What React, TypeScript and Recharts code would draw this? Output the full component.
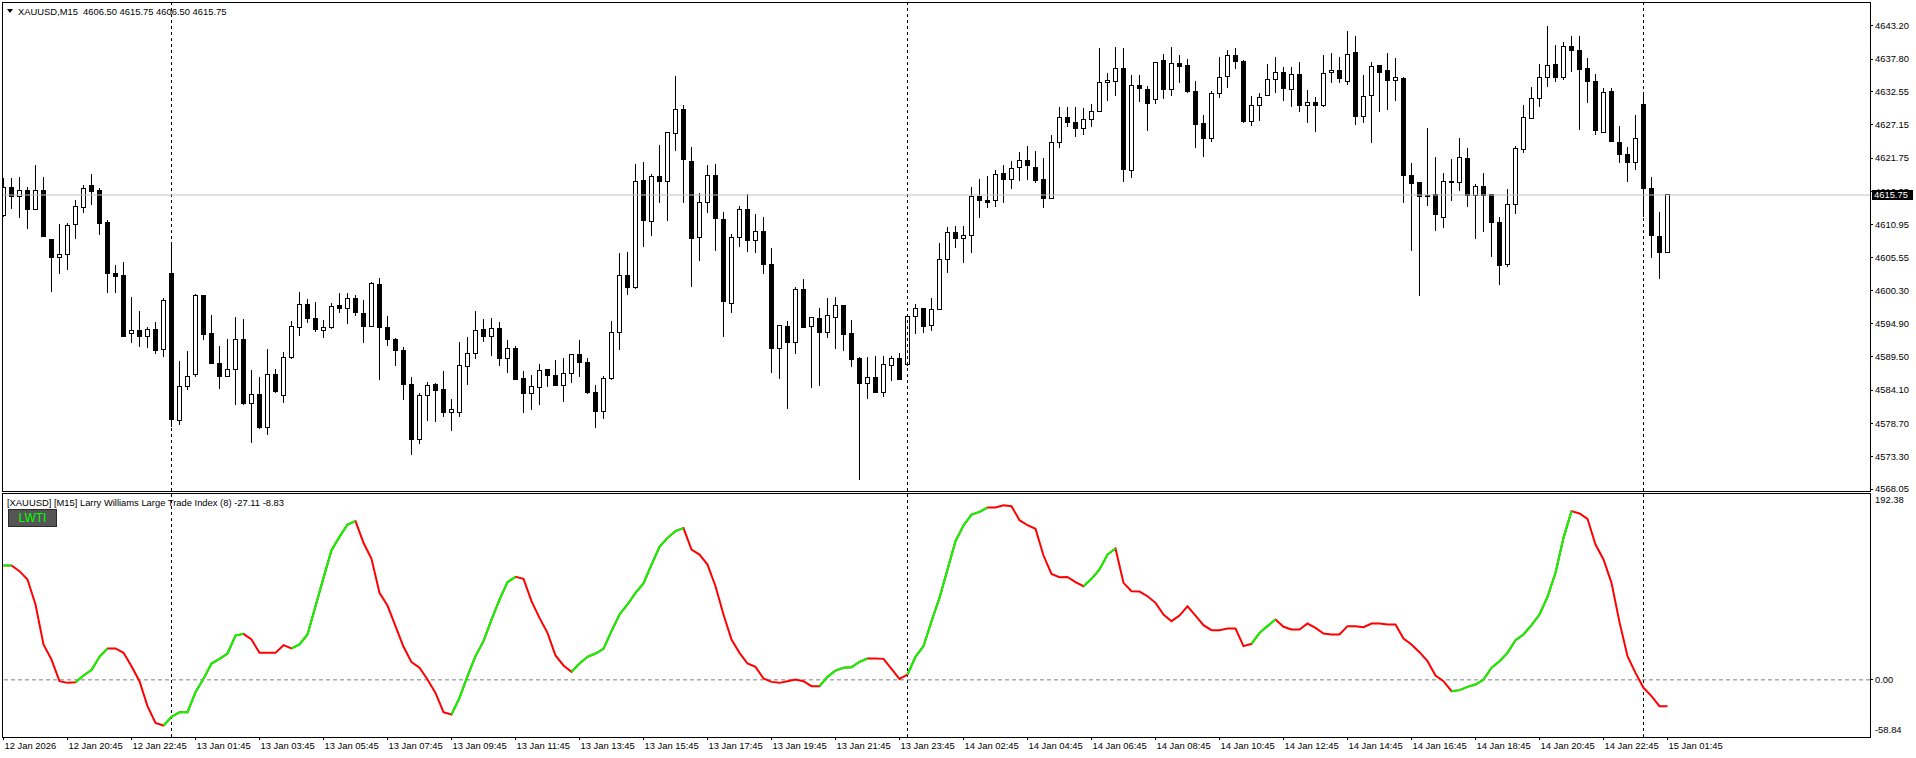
import React from 'react';
import { ComposedChart, Bar, Line, XAxis, YAxis, ReferenceLine } from 'recharts';

const FONT = '"Liberation Sans", Arial, sans-serif';
const FS = 9.4;

const opens = [
  4612.40, 4616.99, 4615.48, 4616.51, 4613.37, 4616.51, 4608.56, 4605.59, 4606.07, 4610.94,
  4613.75, 4617.21, 4616.40, 4611.21, 4603.05, 4602.72, 4593.32, 4593.80, 4592.83, 4593.97,
  4590.72, 4603.05, 4579.16, 4584.67, 4586.61, 4599.48, 4593.21, 4588.45, 4586.29, 4587.48,
  4592.34, 4581.97, 4583.43, 4578.02, 4586.67, 4583.26, 4589.32, 4594.24, 4598.02, 4595.75,
  4593.80, 4594.24, 4597.75, 4597.37, 4598.99, 4596.56, 4594.40, 4601.26, 4594.29, 4592.34,
  4590.61, 4585.05, 4576.02, 4583.21, 4584.94, 4584.13, 4580.45, 4580.45, 4587.91, 4590.07,
  4593.97, 4592.78, 4594.13, 4589.21, 4590.89, 4585.91, 4583.53, 4584.56, 4587.37, 4586.40,
  4584.89, 4586.83, 4589.91, 4588.61, 4583.75, 4580.61, 4585.91, 4593.48, 4602.72, 4600.78,
  4618.13, 4611.48, 4618.78, 4617.91, 4625.75, 4629.64, 4621.21, 4608.89, 4614.56, 4618.94,
  4611.80, 4598.18, 4608.89, 4613.43, 4608.40, 4609.91, 4604.51, 4590.83, 4594.45, 4591.86,
  4600.45, 4594.40, 4595.75, 4593.48, 4595.91, 4597.75, 4593.21, 4589.16, 4585.21, 4586.18,
  4583.70, 4588.02, 4589.26, 4588.18, 4596.07, 4597.37, 4594.51, 4597.21, 4605.32, 4609.70,
  4608.72, 4609.21, 4615.48, 4614.78, 4614.89, 4619.21, 4618.29, 4620.24, 4621.37, 4620.24,
  4618.29, 4615.21, 4624.29, 4628.34, 4627.53, 4626.56, 4628.02, 4629.32, 4634.02, 4634.18,
  4636.29, 4619.75, 4633.53, 4632.89, 4631.16, 4637.59, 4632.78, 4637.10, 4636.78, 4632.61,
  4627.37, 4624.94, 4632.24, 4634.94, 4638.40, 4637.43, 4627.70, 4630.29, 4631.91, 4634.51,
  4635.64, 4632.89, 4635.37, 4630.29, 4630.78, 4630.24, 4635.64, 4635.97, 4634.18, 4638.78,
  4628.45, 4631.86, 4636.78, 4635.86, 4634.29, 4634.67, 4618.99, 4617.70, 4615.59, 4615.75,
  4612.13, 4617.97, 4617.75, 4621.70, 4615.64, 4617.16, 4615.75, 4611.37, 4604.40, 4614.24,
  4623.16, 4628.18, 4631.43, 4634.83, 4636.94, 4634.83, 4639.86, 4639.21, 4636.29, 4634.18,
  4625.91, 4632.61, 4624.29, 4622.34, 4621.05, 4630.45, 4616.83, 4609.10, 4606.50,
];

const highs = [
  4618.45, 4618.45, 4618.67, 4617.10, 4620.61, 4618.67, 4608.56, 4611.05, 4611.26, 4614.94,
  4617.37, 4619.16, 4616.83, 4611.70, 4604.34, 4604.83, 4599.26, 4596.94, 4594.40, 4595.21,
  4599.05, 4608.07, 4588.83, 4590.45, 4599.70, 4599.59, 4596.29, 4591.26, 4592.34, 4595.97,
  4595.59, 4587.37, 4586.24, 4590.78, 4587.53, 4590.29, 4595.32, 4600.02, 4598.89, 4598.40,
  4595.48, 4598.24, 4599.86, 4599.86, 4599.53, 4598.72, 4601.64, 4602.34, 4596.13, 4592.56,
  4591.16, 4586.29, 4583.70, 4585.43, 4585.32, 4587.26, 4582.67, 4591.97, 4592.72, 4596.94,
  4595.64, 4595.75, 4595.16, 4592.24, 4591.26, 4587.26, 4586.56, 4588.34, 4587.59, 4588.99,
  4589.37, 4589.91, 4592.24, 4589.26, 4584.94, 4586.40, 4595.32, 4606.29, 4606.51, 4620.78,
  4621.05, 4619.16, 4623.80, 4625.91, 4635.05, 4630.34, 4623.53, 4616.02, 4620.61, 4620.78,
  4612.99, 4609.37, 4613.97, 4615.91, 4612.67, 4612.18, 4607.21, 4594.61, 4595.32, 4600.89,
  4602.18, 4595.91, 4597.37, 4599.10, 4599.26, 4597.91, 4595.48, 4589.43, 4589.53, 4589.64,
  4589.64, 4589.64, 4590.18, 4596.29, 4598.07, 4597.37, 4598.99, 4608.02, 4610.56, 4610.72,
  4610.72, 4617.05, 4618.29, 4618.83, 4619.80, 4620.61, 4621.21, 4622.72, 4623.70, 4622.89,
  4621.75, 4625.43, 4630.07, 4630.07, 4630.07, 4629.80, 4630.51, 4639.53, 4635.59, 4639.70,
  4639.53, 4635.16, 4635.16, 4633.43, 4637.26, 4638.61, 4639.70, 4638.45, 4637.75, 4634.24,
  4628.67, 4632.67, 4638.13, 4639.26, 4639.53, 4637.70, 4631.75, 4632.24, 4636.99, 4638.13,
  4636.51, 4636.51, 4637.32, 4632.78, 4631.70, 4638.45, 4638.83, 4638.13, 4642.34, 4641.53,
  4635.21, 4637.37, 4636.78, 4638.83, 4637.97, 4634.83, 4620.94, 4617.70, 4626.67, 4621.97,
  4619.37, 4621.59, 4624.99, 4623.43, 4617.53, 4619.32, 4615.91, 4612.18, 4616.72, 4623.75,
  4630.34, 4633.26, 4636.94, 4643.16, 4640.07, 4640.56, 4641.53, 4641.53, 4637.91, 4635.37,
  4633.05, 4633.05, 4626.94, 4623.53, 4628.72, 4632.40, 4618.67, 4612.99, 4615.75,
];

const lows = [
  4612.13, 4613.48, 4612.07, 4610.29, 4613.37, 4608.99, 4600.07, 4602.94, 4603.59, 4608.67,
  4612.78, 4614.18, 4609.32, 4599.91, 4599.80, 4592.78, 4591.70, 4591.16, 4590.99, 4589.97,
  4589.53, 4578.18, 4578.45, 4584.13, 4586.29, 4592.24, 4588.45, 4584.34, 4586.29, 4581.75,
  4581.75, 4575.59, 4577.86, 4576.83, 4583.70, 4582.07, 4589.21, 4592.94, 4595.05, 4593.59,
  4592.61, 4594.07, 4596.67, 4594.89, 4596.18, 4591.80, 4594.40, 4585.75, 4591.26, 4588.02,
  4582.51, 4573.59, 4575.37, 4579.16, 4578.99, 4579.80, 4577.53, 4579.80, 4584.94, 4589.21,
  4591.97, 4589.64, 4588.07, 4586.83, 4585.75, 4580.45, 4580.89, 4581.70, 4584.67, 4584.78,
  4582.24, 4585.21, 4586.29, 4583.43, 4578.02, 4579.48, 4585.75, 4590.61, 4599.53, 4600.45,
  4607.37, 4609.16, 4614.51, 4611.59, 4622.94, 4614.51, 4600.89, 4605.10, 4612.89, 4606.72,
  4592.78, 4596.67, 4607.37, 4606.56, 4606.40, 4602.94, 4586.83, 4585.97, 4581.10, 4589.91,
  4594.24, 4584.40, 4584.83, 4592.61, 4590.72, 4590.51, 4587.91, 4569.53, 4582.61, 4583.59,
  4582.94, 4585.64, 4585.75, 4588.07, 4593.16, 4593.32, 4593.75, 4597.10, 4603.16, 4607.10,
  4604.67, 4606.29, 4611.97, 4613.59, 4613.75, 4614.40, 4616.67, 4618.07, 4618.18, 4617.64,
  4613.59, 4615.10, 4623.32, 4626.83, 4625.21, 4625.48, 4626.83, 4629.32, 4631.05, 4631.86,
  4617.91, 4618.56, 4630.89, 4626.18, 4630.51, 4631.32, 4631.86, 4633.86, 4632.34, 4623.43,
  4621.97, 4624.40, 4631.53, 4633.16, 4636.18, 4627.37, 4626.94, 4627.80, 4631.91, 4632.34,
  4631.05, 4630.07, 4629.26, 4627.37, 4626.02, 4630.07, 4633.86, 4633.97, 4633.59, 4627.16,
  4627.48, 4624.24, 4629.26, 4629.53, 4630.99, 4614.51, 4606.72, 4599.43, 4613.97, 4609.86,
  4610.40, 4614.83, 4616.40, 4613.86, 4608.56, 4609.80, 4605.64, 4601.16, 4604.02, 4612.72,
  4622.61, 4628.02, 4630.07, 4633.21, 4634.13, 4634.40, 4635.75, 4626.29, 4630.72, 4625.53,
  4625.91, 4624.40, 4620.94, 4617.91, 4619.80, 4612.24, 4605.59, 4602.18, 4606.50,
];

const closes = [
  4616.94, 4615.48, 4616.45, 4613.37, 4616.51, 4609.10, 4605.59, 4606.13, 4610.83, 4613.91,
  4616.83, 4616.29, 4611.10, 4602.94, 4602.51, 4592.78, 4593.70, 4592.78, 4593.97, 4590.51,
  4598.67, 4579.37, 4584.67, 4586.29, 4599.48, 4593.10, 4588.45, 4586.29, 4587.48, 4592.34,
  4581.86, 4583.43, 4578.02, 4586.67, 4583.86, 4589.43, 4594.45, 4598.02, 4595.75, 4593.97,
  4594.29, 4597.70, 4597.37, 4598.99, 4596.67, 4594.40, 4601.43, 4594.24, 4592.24, 4590.51,
  4584.94, 4576.02, 4583.26, 4584.89, 4584.02, 4580.45, 4580.99, 4588.02, 4590.07, 4593.80,
  4592.78, 4594.13, 4589.16, 4590.89, 4585.75, 4583.53, 4584.67, 4587.32, 4586.45, 4584.78,
  4586.83, 4589.91, 4588.56, 4583.70, 4580.61, 4586.02, 4593.48, 4602.72, 4600.78, 4617.97,
  4611.59, 4618.78, 4617.91, 4625.91, 4629.64, 4621.48, 4608.67, 4614.56, 4618.94, 4611.91,
  4598.45, 4608.89, 4613.43, 4608.40, 4609.91, 4604.51, 4590.83, 4594.61, 4591.80, 4600.45,
  4594.24, 4595.91, 4593.48, 4596.13, 4597.75, 4593.16, 4589.10, 4585.21, 4586.18, 4583.70,
  4588.18, 4589.26, 4585.75, 4596.07, 4597.37, 4594.40, 4597.10, 4605.32, 4609.70, 4608.72,
  4609.21, 4615.48, 4614.78, 4614.56, 4619.10, 4618.29, 4620.07, 4621.37, 4620.51, 4618.13,
  4615.21, 4624.24, 4628.34, 4627.53, 4626.56, 4628.02, 4629.32, 4633.97, 4634.34, 4636.24,
  4619.91, 4633.53, 4633.05, 4630.61, 4637.26, 4632.78, 4637.10, 4636.61, 4632.51, 4627.21,
  4624.94, 4632.24, 4634.83, 4638.40, 4637.37, 4627.64, 4630.29, 4631.59, 4634.51, 4635.64,
  4633.05, 4635.32, 4630.24, 4630.78, 4630.24, 4635.48, 4635.97, 4634.61, 4638.56, 4628.45,
  4631.75, 4636.61, 4635.59, 4634.29, 4634.83, 4618.89, 4617.64, 4615.48, 4615.48, 4612.56,
  4617.97, 4617.75, 4621.91, 4615.64, 4617.16, 4615.64, 4611.26, 4604.29, 4614.24, 4623.32,
  4628.34, 4631.43, 4634.83, 4636.78, 4634.83, 4639.86, 4639.16, 4636.07, 4634.18, 4626.18,
  4632.40, 4624.40, 4622.34, 4620.99, 4624.99, 4616.78, 4609.16, 4606.45, 4615.75,
];

const lwti = [
  117.7, 117.7, 111.9, 103.3, 77.6, 36.4, 20.9, -1.4, -3.1, -2.4,
  4.5, 10.0, 23.7, 32.3, 32.3, 27.8, 14.1, -1.4, -27.1, -44.3,
  -47.0, -38.1, -33.3, -33.3, -12.7, 1.0, 16.8, 21.6, 27.1, 45.6,
  47.4, 41.5, 27.8, 27.8, 27.8, 35.7, 32.3, 36.4, 46.7, 75.8,
  105.0, 133.5, 147.2, 159.9, 163.4, 141.1, 124.6, 89.6, 76.5, 55.3,
  34.0, 18.2, 12.4, 0.3, -13.4, -33.3, -35.7, -18.5, 3.8, 24.4,
  39.8, 62.1, 82.7, 100.6, 106.0, 104.0, 81.0, 63.8, 48.4, 25.1,
  14.8, 8.2, 16.8, 23.7, 27.1, 31.9, 50.1, 67.3, 77.6, 89.6,
  99.2, 118.7, 136.9, 146.2, 153.1, 156.2, 134.2, 129.0, 118.7, 96.4,
  67.3, 41.5, 27.8, 16.8, 13.4, 1.4, -2.1, -3.1, -1.4, 0.3,
  -1.4, -6.5, -6.5, 3.1, 9.6, 12.4, 13.0, 18.5, 22.0, 22.0,
  21.6, 11.3, 1.0, 5.5, 23.7, 34.7, 60.4, 84.4, 113.6, 142.8,
  158.9, 170.2, 173.0, 177.4, 177.4, 179.8, 178.8, 164.4, 159.2, 155.5,
  128.0, 109.1, 105.7, 106.0, 100.6, 96.4, 104.0, 113.6, 129.0, 135.2,
  99.9, 91.3, 90.9, 86.1, 79.3, 67.3, 60.4, 66.2, 75.8, 66.2,
  56.3, 51.1, 51.1, 52.9, 52.9, 34.7, 37.1, 48.4, 55.3, 62.1,
  54.6, 51.8, 51.8, 58.0, 53.5, 47.7, 46.7, 46.7, 55.3, 55.3,
  54.2, 58.0, 58.0, 57.0, 57.0, 42.6, 36.4, 28.5, 19.2, 4.5,
  -1.4, -11.7, -10.6, -7.2, -4.8, 0.3, 12.4, 19.2, 27.8, 40.8,
  46.7, 56.3, 67.3, 85.5, 110.2, 146.2, 173.7, 171.3, 165.8, 139.3,
  123.9, 99.9, 59.4, 24.4, 7.2, -8.2, -16.8, -27.1, -27.1,
];

// bar ranges (inclusive) where the LWTI line is drawn green (rising state)
const greenSpans = [
  [0, 1], [9, 13], [20, 30], [36, 44], [56, 64], [71, 85],
  [102, 108], [113, 123], [135, 139], [156, 159], [181, 196],
];

const timeTickBars = [
  0, 8, 16, 24, 32, 40, 48, 56, 64, 72, 80, 88, 96, 104,
  112, 120, 128, 136, 144, 152, 160, 168, 176, 184, 192, 200, 208,
];
const timeLabels = [
  '12 Jan 2026', '12 Jan 20:45', '12 Jan 22:45', '13 Jan 01:45', '13 Jan 03:45',
  '13 Jan 05:45', '13 Jan 07:45', '13 Jan 09:45', '13 Jan 11:45', '13 Jan 13:45',
  '13 Jan 15:45', '13 Jan 17:45', '13 Jan 19:45', '13 Jan 21:45', '13 Jan 23:45',
  '14 Jan 02:45', '14 Jan 04:45', '14 Jan 06:45', '14 Jan 08:45', '14 Jan 10:45',
  '14 Jan 12:45', '14 Jan 14:45', '14 Jan 16:45', '14 Jan 18:45', '14 Jan 20:45',
  '14 Jan 22:45', '15 Jan 01:45',
];

const priceTicks = [
  4643.20, 4637.80, 4632.55, 4627.15, 4621.75, 4616.35, 4610.95, 4605.55,
  4600.30, 4594.90, 4589.50, 4584.10, 4578.70, 4573.30, 4568.05, 4615.75,
];
const lastPrice = 4615.75;
const lwtiTicks = [192.38, 0, -58.84];
const separatorBars = [21, 113, 205];

const headerText = 'XAUUSD,M15  4606.50 4615.75 4606.50 4615.75';
const indicatorTitle = '[XAUUSD] [M15] Larry Williams Large Trade Index (8) -27.11 -8.83';

const X_DOMAIN: [number, number] = [-0.1875, 233.3125];
const PRICE_DOMAIN: [number, number] = [4567.745, 4647.05];
const LWTI_DOMAIN: [number, number] = [-58.84, 192.38];

const candleRows = opens.map((o, i) => ({
  i,
  open: o,
  high: highs[i],
  low: lows[i],
  close: closes[i],
  range: [lows[i], highs[i]],
}));

const lwtiRows = lwti.map((v, i) => {
  const row: any = { i, v };
  greenSpans.forEach(([a, b], k) => {
    if (i >= a && i <= b) row['g' + k] = v;
  });
  return row;
});

const Candle = (props: any) => {
  const { x, y, width, height, payload } = props;
  if (x == null || y == null || !payload) return null;
  const cx = x + width / 2;
  const top = Math.min(y, y + height);
  const bot = Math.max(y, y + height);
  const span = payload.high - payload.low;
  const py = (p: number) => (span === 0 ? top : top + ((payload.high - p) / span) * (bot - top));
  const yo = py(payload.open);
  const yc = py(payload.close);
  const bull = payload.close > payload.open;
  const bTop = Math.min(yo, yc);
  const bH = Math.max(Math.abs(yc - yo), 1);
  return (
    <g shapeRendering="crispEdges">
      <line x1={cx} x2={cx} y1={top} y2={bot} stroke="#000" strokeWidth={1} />
      <rect x={cx - 2} y={bTop} width={4} height={bH} fill={bull ? '#fff' : '#000'} stroke="#000" strokeWidth={1} />
    </g>
  );
};

const PriceTick = (props: any) => {
  const { x, y, payload } = props;
  const v = payload.value;
  if (v === lastPrice) {
    return (
      <g>
        <rect x={x + 2} y={y - 5} width={41} height={10} fill="#000" />
        <text x={x + 4} y={y} dy="0.35em" fontSize={FS} fill="#fff" fontFamily={FONT}>{v.toFixed(2)}</text>
      </g>
    );
  }
  return (
    <g>
      <line x1={x} x2={x + 3} y1={y} y2={y} stroke="#000" shapeRendering="crispEdges" />
      <text x={x + 5} y={y} dy="0.35em" fontSize={FS} fill="#000" fontFamily={FONT}>{v.toFixed(2)}</text>
    </g>
  );
};

const LwtiTick = (props: any) => {
  const { x, y, payload } = props;
  const v = payload.value;
  const off = v === lwtiTicks[0] ? 7 : v === lwtiTicks[2] ? -7 : 0;
  return (
    <g>
      {v === 0 ? <line x1={x} x2={x + 3} y1={y} y2={y} stroke="#000" shapeRendering="crispEdges" /> : null}
      <text x={x + 5} y={y + off} dy="0.35em" fontSize={FS} fill="#000" fontFamily={FONT}>{v.toFixed(2)}</text>
    </g>
  );
};

const TimeTick = (props: any) => {
  const { x, y, payload } = props;
  const k = timeTickBars.indexOf(payload.value);
  return (
    <g>
      <line x1={x} x2={x} y1={y} y2={y + 3} stroke="#000" shapeRendering="crispEdges" />
      <text x={x + 1} y={y + 9} dy="0.35em" fontSize={FS} fill="#000" fontFamily={FONT}>{timeLabels[k]}</text>
    </g>
  );
};

export default function App() {
  return (
    <div style={{ position: 'absolute', left: 0, top: 0, width: 1916, height: 758, background: '#fff', fontFamily: FONT, overflow: 'hidden' }}>
      <div style={{ position: 'absolute', left: 0, top: 0 }}>
        <ComposedChart width={1916} height={493} data={candleRows} margin={{ top: 2, right: 0, bottom: 2, left: 2 }}>
          <XAxis dataKey="i" type="number" domain={X_DOMAIN} allowDataOverflow hide />
          <YAxis
            orientation="right"
            width={46}
            type="number"
            domain={PRICE_DOMAIN}
            allowDataOverflow
            ticks={priceTicks}
            interval={0}
            tickSize={0}
            tickMargin={0}
            axisLine={false}
            tickLine={false}
            tick={<PriceTick />}
          />
          {separatorBars.map((b) => (
            <ReferenceLine key={'s' + b} x={b} stroke="#000" strokeDasharray="3 3" />
          ))}
          <ReferenceLine y={lastPrice} stroke="#C0C0C0" />
          <Bar dataKey="range" barSize={5} isAnimationActive={false} shape={(p: any) => <Candle {...p} />} />
        </ComposedChart>
      </div>
      <div style={{ position: 'absolute', left: 0, top: 493 }}>
        <ComposedChart width={1916} height={265} data={lwtiRows} margin={{ top: 0, right: 0, bottom: 0, left: 2 }}>
          <XAxis
            dataKey="i"
            type="number"
            domain={X_DOMAIN}
            allowDataOverflow
            ticks={timeTickBars}
            interval={0}
            height={21}
            tickSize={0}
            tickMargin={0}
            axisLine={false}
            tickLine={false}
            tick={<TimeTick />}
          />
          <YAxis
            orientation="right"
            width={46}
            type="number"
            domain={LWTI_DOMAIN}
            allowDataOverflow
            ticks={lwtiTicks}
            interval={0}
            tickSize={0}
            tickMargin={0}
            axisLine={false}
            tickLine={false}
            tick={<LwtiTick />}
          />
          {separatorBars.map((b) => (
            <ReferenceLine key={'s' + b} x={b} stroke="#000" strokeDasharray="3 3" />
          ))}
          <ReferenceLine y={0} stroke="#808080" strokeDasharray="4 3" />
          <Line dataKey="v" type="linear" stroke="#FF0000" strokeWidth={2} dot={false} activeDot={false} isAnimationActive={false} />
          {greenSpans.map((_, k) => (
            <Line key={'g' + k} dataKey={'g' + k} type="linear" stroke="#00FF00" strokeWidth={2} dot={false} activeDot={false} isAnimationActive={false} />
          ))}
        </ComposedChart>
      </div>
      {/* window frames */}
      <div style={{ position: 'absolute', left: 2, top: 2, width: 1869, height: 490, border: '1px solid #000', boxSizing: 'border-box', pointerEvents: 'none' }} />
      <div style={{ position: 'absolute', left: 2, top: 493, width: 1869, height: 245, border: '1px solid #000', boxSizing: 'border-box', pointerEvents: 'none' }} />
      {/* header */}
      <div style={{ position: 'absolute', left: 7, top: 5, height: 12, display: 'flex', alignItems: 'center', fontSize: FS, color: '#000', whiteSpace: 'pre' }}>
        <svg width={6} height={4} style={{ marginRight: 5 }}>
          <polygon points="0,0 6,0 3,4" fill="#000" />
        </svg>
        <span>{headerText}</span>
      </div>
      {/* indicator title */}
      <div style={{ position: 'absolute', left: 7, top: 497, height: 12, lineHeight: '12px', fontSize: FS, color: '#000', whiteSpace: 'pre' }}>
        {indicatorTitle}
      </div>
      <div style={{ position: 'absolute', left: 8, top: 509, width: 49, height: 18, background: '#555555', border: '1px solid #2a2a2a', boxSizing: 'border-box', color: '#00FF00', fontSize: 12, lineHeight: '16px', textAlign: 'center' }}>
        LWTI
      </div>
    </div>
  );
}
